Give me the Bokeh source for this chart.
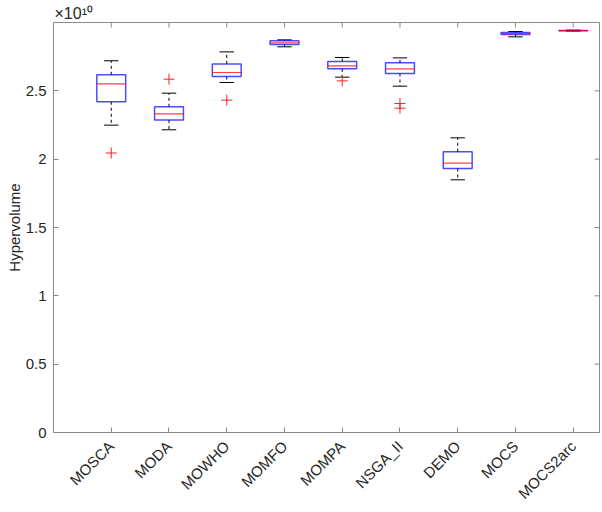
import numpy as np
from bokeh.plotting import figure
from bokeh.models import FixedTicker, Range1d, ColumnDataSource
from bokeh.embed import file_html
from bokeh.resources import INLINE

# values in units of 1e10
algorithms = ["MOSCA", "MODA", "MOWHO", "MOMFO", "MOMPA", "NSGA_II", "DEMO", "MOCS", "MOCS2arc"]
upper_whisker = [2.720, 2.483, 2.785, 2.873, 2.744, 2.741, 2.156, 2.934, 2.944]
q3 = [2.617, 2.383, 2.697, 2.866, 2.715, 2.705, 2.054, 2.926, 2.942]
median = [2.551, 2.332, 2.634, 2.851, 2.683, 2.661, 1.971, 2.919, 2.941]
q1 = [2.420, 2.286, 2.605, 2.839, 2.661, 2.627, 1.932, 2.912, 2.940]
lower_whisker = [2.249, 2.215, 2.561, 2.822, 2.600, 2.534, 1.849, 2.895, 2.938]
outlier_alg = ["MOSCA", "MODA", "MOWHO", "MOMPA", "NSGA_II", "NSGA_II"]
outlier_val = [2.045, 2.585, 2.432, 2.573, 2.407, 2.373]
y_ticks = [0, 0.5, 1, 1.5, 2, 2.5]
y_tick_labels = ["0", "0.5", "1", "1.5", "2", "2.5"]
exponent_text = "\u00d710\u00b9\u2070"

XMIN, XMAX = 0, 9.455
YMIN, YMAX = 0, 3.0

xs = np.arange(1, len(algorithms) + 1)
box_w = 0.25
cap_w = 0.125

src = ColumnDataSource(dict(
    x=xs, left=xs - box_w, right=xs + box_w, cl=xs - cap_w, cr=xs + cap_w,
    uw=upper_whisker, q3=q3, med=median, q1=q1, lw=lower_whisker,
))
osrc = ColumnDataSource(dict(
    x=[algorithms.index(a) + 1 for a in outlier_alg], y=outlier_val,
))

FONT = "Liberation Sans"
AX = "#8a8a8a"
TXT = "#262626"

p = figure(width=602, height=512, output_backend="svg", toolbar_location=None,
           x_range=Range1d(XMIN, XMAX), y_range=Range1d(YMIN, YMAX),
           min_border_left=53, min_border_right=3, min_border_top=22, min_border_bottom=80,
           background_fill_color="white", border_fill_color="white")
p.grid.visible = False
p.outline_line_color = AX
p.outline_line_width = 1

# exponent note above the axes
p.title.text = exponent_text
p.title.text_font = FONT
p.title.text_font_size = "16px"
p.title.text_font_style = "normal"
p.title.text_color = TXT
p.title.align = "left"
p.title.offset = 1
p.title.standoff = 1

# whiskers
p.segment(x0="x", y0="q3", x1="x", y1="uw", source=src, line_color="black", line_dash="3 3", line_width=1)
p.segment(x0="x", y0="q1", x1="x", y1="lw", source=src, line_color="black", line_dash="3 3", line_width=1)
p.segment(x0="cl", y0="uw", x1="cr", y1="uw", source=src, line_color="black", line_width=1)
p.segment(x0="cl", y0="lw", x1="cr", y1="lw", source=src, line_color="black", line_width=1)
# boxes
p.quad(left="left", right="right", bottom="q1", top="q3", source=src,
       fill_color=None, line_color="#0000ff", line_width=1.5, line_alpha=0.7)
p.segment(x0="left", y0="med", x1="right", y1="med", source=src, line_color="#ff0000", line_width=1.2, line_alpha=0.75)
# outliers
p.scatter(x="x", y="y", source=osrc, marker="cross", size=11, line_color="#ff2020", line_width=1)

# inward ticks on top and right frame edges
p.ray(x=list(xs), y=[YMAX] * len(xs), length=5, length_units="screen", angle=-np.pi / 2,
      line_color=AX, line_width=1)
p.ray(x=[XMAX] * len(y_ticks), y=y_ticks, length=5, length_units="screen", angle=np.pi,
      line_color=AX, line_width=1)

def style(ax):
    ax.axis_line_color = AX
    ax.major_tick_line_color = AX
    ax.major_tick_in = 5
    ax.major_tick_out = 0
    ax.minor_tick_line_color = None
    ax.major_label_text_font = FONT
    ax.major_label_text_color = TXT

xa = p.xaxis[0]
xa.ticker = FixedTicker(ticks=list(xs))
xa.major_label_overrides = {int(i): a for i, a in zip(xs, algorithms)}
xa.major_label_orientation = np.pi / 4
xa.major_label_text_font_size = "15px"
xa.major_label_standoff = 11
style(xa)

ya = p.yaxis[0]
ya.ticker = FixedTicker(ticks=y_ticks)
ya.major_label_overrides = dict(zip(y_ticks, y_tick_labels))
ya.major_label_text_font_size = "15px"
ya.major_label_standoff = 7
ya.axis_label = "Hypervolume"
ya.axis_label_text_font = FONT
ya.axis_label_text_font_style = "normal"
ya.axis_label_text_font_size = "15px"
ya.axis_label_text_color = TXT
ya.axis_label_standoff = 0
style(ya)

open("out.html", "w").write(file_html(p, INLINE))
